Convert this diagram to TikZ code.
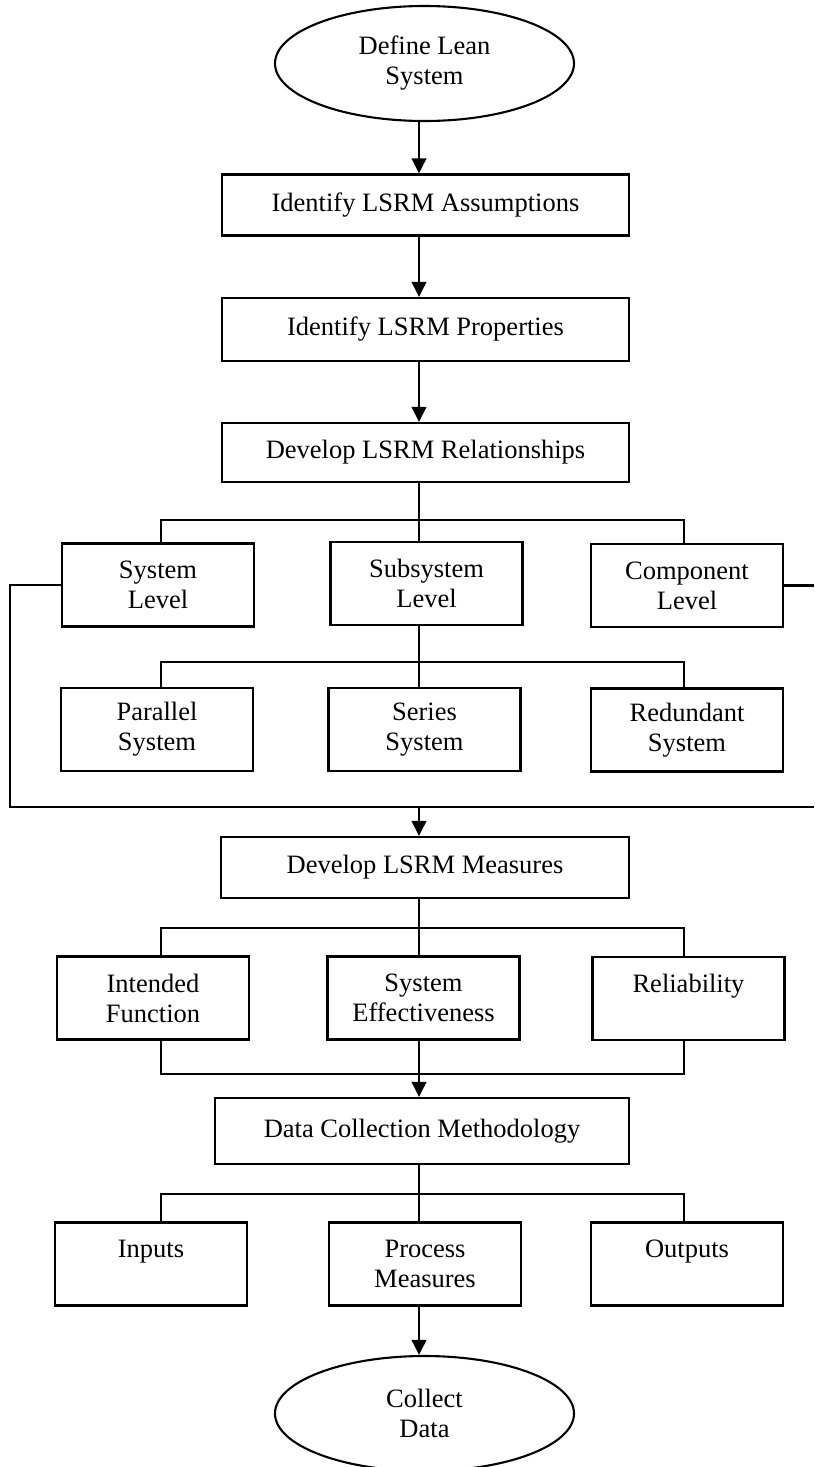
\documentclass[tikz,border=0pt]{standalone}
\usepackage{fontspec}
\setmainfont{Liberation Serif}
\usetikzlibrary{shapes.geometric,arrows.meta}
\begin{document}
\begin{tikzpicture}[x=1pt,y=-1pt,
  line width=2.1pt,
  every node/.style={font=\fontsize{26.5}{30}\selectfont, align=center, inner sep=0pt},
  wide/.style={draw, rectangle, minimum width=407pt, minimum height=61pt},
  small/.style={draw, rectangle, minimum width=192pt, minimum height=83pt},
  terminal/.style={draw, ellipse, minimum width=299pt, minimum height=115pt},
  arr/.style={-{Triangle[width=14.5pt,length=15pt]}}]
\useasboundingbox (0,0) rectangle (814,1467);
\clip (0,0) rectangle (814,1467);

% guide lines: trunk and the two outer branch columns
\coordinate (trunk) at (419,0);
\coordinate (L) at (161,0);
\coordinate (R) at (684,0);
\coordinate (b1) at (419,520);
\coordinate (b2) at (419,662);
\coordinate (b3) at (419,928);
\coordinate (b4) at (419,1074);
\coordinate (b5) at (419,1194);
\coordinate (loopL) at (10,807);
\coordinate (loopR) at (814,807);

% main steps
\node[terminal] (def) at (424.5,63.5) {Define Lean\\System};
\node[wide] (ass) at (425.5,205) {Identify LSRM Assumptions};
\node[wide, minimum height=63pt] (prop) at (425.5,329.5) {Identify LSRM Properties};
\node[wide, minimum height=59pt] (rel) at (425.5,452.5) {Develop LSRM Relationships};

% levels
\node[small] (sys) at (158,585) {System\\Level};
\node[small] (sub) at (426.5,583.5) {Subsystem\\Level};
\node[small] (comp) at (687,585.5) {Component\\Level};

% system configurations
\node[small] (par) at (157,729.5) {Parallel\\System};
\node[small] (ser) at (424.5,729.5) {Series\\System};
\node[small] (red) at (687,730) {Redundant\\System};

% measures
\node[wide, minimum width=408pt] (meas) at (425,867.5) {Develop LSRM Measures};
\node[small] (intf) at (153,998) {Intended\\Function};
\node[small] (eff) at (423.5,998) {System\\Effectiveness};
\node[small] (reli) at (688.5,998.5) {Reliability\\\mbox{}};

% data collection
\node[wide, minimum width=414pt, minimum height=66pt] (dcm) at (422,1131) {Data Collection Methodology};
\node[small] (inp) at (151,1264) {Inputs\\\mbox{}};
\node[small] (proc) at (425,1264) {Process\\Measures};
\node[small] (outp) at (687,1264) {Outputs\\\mbox{}};
\node[terminal] (col) at (424.5,1413.5) {Collect\\Data};

% sequence arrows
\draw[arr] (def.south -| trunk) -- (ass.north -| trunk);
\draw[arr] (ass.south -| trunk) -- (prop.north -| trunk);
\draw[arr] (prop.south -| trunk) -- (rel.north -| trunk);

% relationships split into levels
\draw (rel.south -| trunk) -- (sub.north -| trunk);
\draw (sys.north -| L) -- (L |- b1) -- (R |- b1) -- (comp.north -| R);

% subsystem split into configurations
\draw (sub.south -| trunk) -- (ser.north -| trunk);
\draw (par.north -| L) -- (L |- b2) -- (R |- b2) -- (red.north -| R);

% loop around the levels into the measures
\draw (sys.west) -- (sys.west -| loopL) -- (loopL) -- (loopR);
\draw (comp.east) -- (comp.east -| loopR);
\draw[arr] (trunk |- loopL) -- (meas.north -| trunk);

% measures split and merge
\draw (meas.south -| trunk) -- (eff.north -| trunk);
\draw (intf.north -| L) -- (L |- b3) -- (R |- b3) -- (reli.north -| R);
\draw (intf.south -| L) -- (L |- b4) -- (R |- b4) -- (reli.south -| R);
\draw[arr] (eff.south -| trunk) -- (dcm.north -| trunk);

% data collection split
\draw (dcm.south -| trunk) -- (proc.north -| trunk);
\draw (inp.north -| L) -- (L |- b5) -- (R |- b5) -- (outp.north -| R);
\draw[arr] (proc.south -| trunk) -- (col.north -| trunk);
\end{tikzpicture}
\end{document}
